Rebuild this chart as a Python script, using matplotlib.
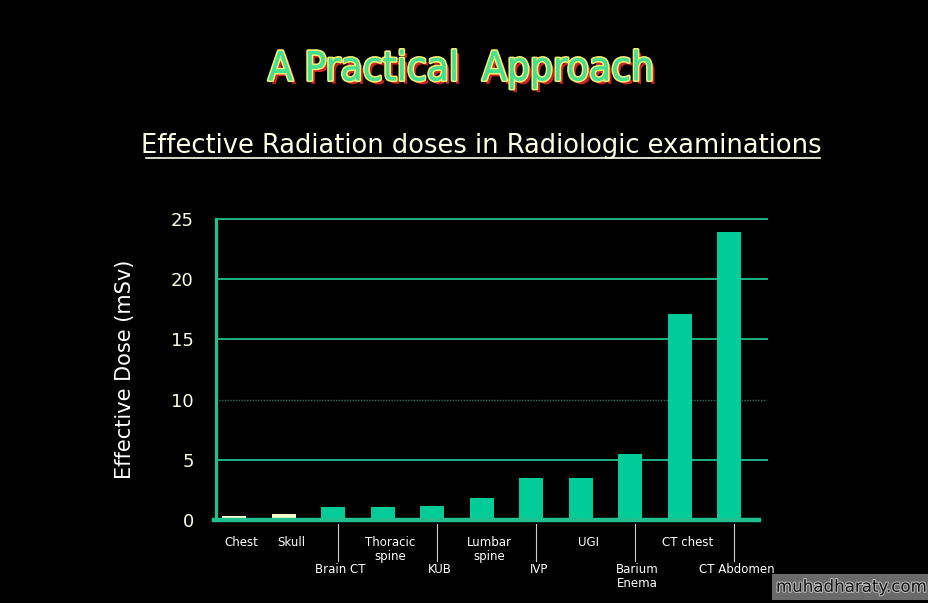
import matplotlib
matplotlib.use("Agg")
import matplotlib.pyplot as plt
import matplotlib.patheffects as pe
import numpy as np

# Data
exams = ["Chest", "Skull", "Brain CT", "Thoracic\nspine", "KUB", "Lumbar\nspine",
         "IVP", "UGI", "Barium\nEnema", "CT chest", "CT Abdomen"]
dose = [0.3, 0.5, 1.1, 1.1, 1.2, 1.8, 3.5, 3.5, 5.5, 17.1, 23.9]
yticks = [0, 5, 10, 15, 20, 25]

green = "#00cc99"
line_green = "#1fbf8f"
pale = "#ffffcc"

fig = plt.figure(figsize=(9.29, 6.03), dpi=100, facecolor="black")
ax = fig.add_axes([0.2325, 0.1376, 0.593, 0.4992], facecolor="black")

x = np.arange(len(exams))
colors = [pale, pale] + [green] * (len(exams) - 2)
ax.bar(x, dose, width=0.48, color=colors, zorder=3)

ax.set_xlim(-0.37, 10.76)
ax.set_ylim(0, 25)

# horizontal grid (the 10 line is faint/dotted on the slide)
for v in yticks[1:]:
    if v == 10:
        ax.axhline(v, color="#3a6f5c", lw=1.0, ls=(0, (1, 1)), zorder=1)
    else:
        ax.axhline(v, color=line_green, lw=1.3, zorder=1, clip_on=False)

for s in ["top", "right"]:
    ax.spines[s].set_visible(False)
ax.spines["left"].set_color(line_green)
ax.spines["left"].set_linewidth(2.3)
ax.spines["bottom"].set_color(line_green)
ax.spines["bottom"].set_linewidth(3.2)
ax.spines["bottom"].set_bounds(-0.42, 10.6)
ax.spines["bottom"].set_zorder(4)

ax.set_yticks(yticks)
ax.set_yticklabels([str(v) for v in yticks], color="#ffffe6", fontsize=13)
ax.tick_params(axis="y", length=0, pad=16)
ax.set_xticks([])

ax.set_ylabel("Effective Dose (mSv)", color="white", fontsize=15,
              labelpad=26)

# staggered category labels with separator ticks
for i, name in enumerate(exams):
    if i >= 2 and i % 2 == 0:
        ax.plot([i + 0.1, i + 0.1], [-0.3, -3.4], color="#cccccc", lw=0.8,
                clip_on=False)
        ax.text(i + 0.15, -3.6, name, ha="center", va="top", color="white",
                fontsize=8.5, linespacing=1.1)
    else:
        ax.text(i + 0.15, -1.3, name, ha="center", va="top", color="white",
                fontsize=8.5, linespacing=1.1)

# titles
fig.text(0.496, 0.885, "A Practical  Approach", ha="center", va="center",
         fontsize=29, fontstretch="condensed", color="#44e090",
         path_effects=[pe.SimplePatchShadow(offset=(2.5, -2.5), shadow_rgbFace="#cc2222", alpha=1),
                       pe.withStroke(linewidth=2.5, foreground="#f5ee70"),
                       pe.Normal()])
fig.text(0.518, 0.758, "Effective Radiation doses in Radiologic examinations",
         ha="center", va="center", fontsize=18.5, color="#ffffe6")
fig.add_artist(plt.Line2D([0.157, 0.883], [0.738, 0.738], color="#ffffe6", lw=1.2))

# watermark
fig.text(0.997, 0.012, "muhadharaty.com", ha="right", va="bottom", fontsize=12,
         color="#111111", bbox=dict(facecolor="#6a6a6a", edgecolor="none", pad=3),
         path_effects=[pe.withStroke(linewidth=1.5, foreground="#bbbbbb")])

fig.savefig("out.png", dpi=100, facecolor="black")
